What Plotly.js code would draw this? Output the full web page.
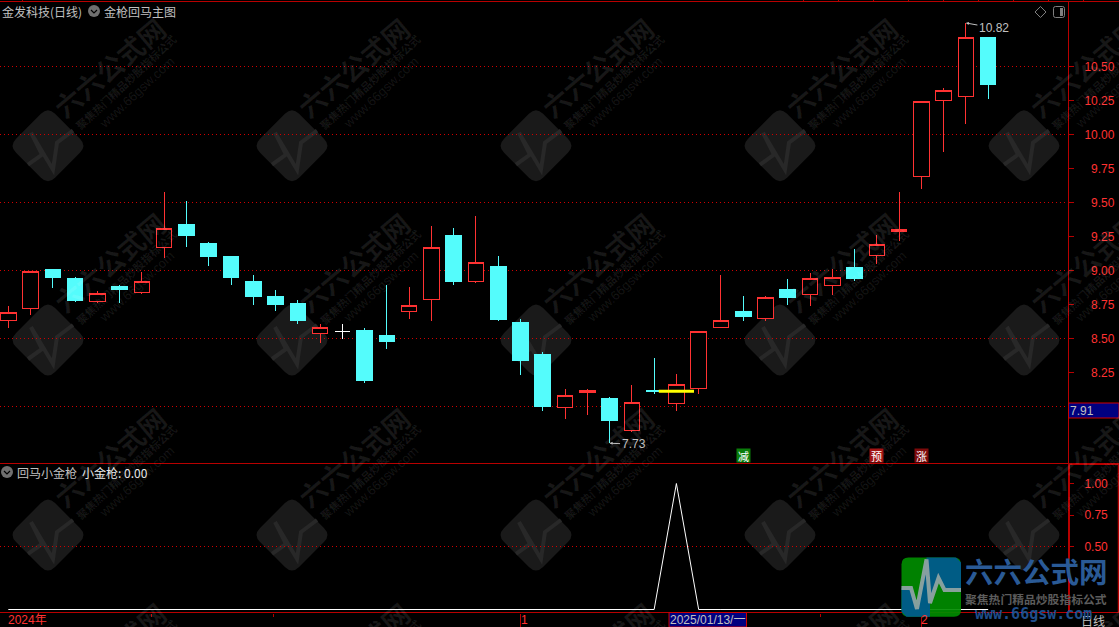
<!DOCTYPE html>
<html><head><meta charset="utf-8">
<script src="https://cdn.plot.ly/plotly-3.0.1.min.js"></script>
<style>html,body{margin:0;padding:0;background:#000;overflow:hidden}#c{width:1119px;height:627px}
#c .boxlayer path{shape-rendering:crispEdges}</style>
</head><body><div id="c"></div>
<script>
// ---- data ----
const openP  = [8.63,8.72,9.01,8.94,8.77,8.88,8.84,9.17,9.34,9.20,9.10,8.92,8.81,8.76,8.54,8.55,8.56,8.52,8.70,8.79,9.26,8.92,9.03,8.62,8.38,7.99,8.10,8.06,7.82,8.12,8.02,8.13,8.58,8.70,8.65,8.86,8.82,8.89,9.02,9.11,9.29,9.69,10.25,10.28,10.71];
const closeP = [8.69,8.99,8.95,8.78,8.83,8.86,8.92,9.31,9.26,9.10,8.95,8.81,8.75,8.63,8.58,8.55,8.19,8.48,8.74,9.17,8.92,9.06,8.64,8.34,8.00,8.08,8.12,7.90,8.03,8.11,8.16,8.55,8.63,8.66,8.80,8.80,8.94,8.95,8.94,9.19,9.30,10.24,10.32,10.71,10.37];
const highP  = [8.74,8.99,9.01,8.95,8.85,8.89,8.99,9.58,9.51,9.21,9.10,8.97,8.86,8.78,8.61,8.61,8.58,8.89,8.88,9.33,9.31,9.40,9.11,8.64,8.40,8.13,8.13,8.07,8.16,8.36,8.24,8.55,8.97,8.81,8.81,8.94,8.98,9.01,9.16,9.26,9.58,10.24,10.34,10.82,10.72];
const lowP   = [8.58,8.67,8.87,8.77,8.76,8.76,8.83,9.09,9.17,9.03,8.89,8.75,8.70,8.61,8.47,8.50,8.17,8.42,8.64,8.63,8.89,8.91,8.63,8.23,7.97,7.91,7.94,7.73,7.81,8.09,7.97,8.09,8.58,8.63,8.63,8.75,8.74,8.82,8.92,9.05,9.22,9.60,9.87,10.08,10.26];
const crossIndex = 15;
const indicator = [0,0,0,0,0,0,0,0,0,0,0,0,0,0,0,0,0,0,0,0,0,0,0,0,0,0,0,0,0,0,1,0,0,0,0,0,0,0,0,0,0,0,0,0,0];
const yellowX = [29.21,30.79];
const yellowY = [8.112,8.112];
const priceTicks = [10.5,10.25,10,9.75,9.5,9.25,9,8.75,8.5,8.25];
const priceLabels = ['10.50','10.25','10.00','\u20079.75','\u20079.50','\u20079.25','\u20079.00','\u20078.75','\u20078.50','\u20078.25'];
const gridPrices = [10.5,10,9.5,9,8.5,8];
const indTicks = [1,0.75,0.5];
const indLabels = ['1.00','0.75','0.50'];
const signalX = [33,39,41];
const signalText = ['减','预','涨'];
const signalBg = ['#0a7d0a','#a31414','#7d0a0a'];
const signalPrice = 7.64;
const longTicks = [23,41];
const shortTicks = [6.45,11.93,36.45];
const wmCols = [48,292,536,780,1024];
const wmRows = [145.7,340,535,730];

// ---- helpers ----
const W=1068, T=1, B=613, H=B-T;
const px=x=>x/W, py=y=>(B-y)/H;
const RED='#ff3232', DARK='#b80000', GREY='#c0c0c0';
const P=pts=>pts.map((p,i)=>(i?'L':'M')+px(p[0]).toFixed(5)+','+py(p[1]).toFixed(5)).join(' ');
function roundPoly(pts,d){
  let s='';
  pts.forEach((p,i)=>{
    const a=pts[(i+pts.length-1)%pts.length], b=pts[(i+1)%pts.length];
    const la=Math.hypot(a[0]-p[0],a[1]-p[1]), lb=Math.hypot(b[0]-p[0],b[1]-p[1]);
    const s1=[p[0]+(a[0]-p[0])*d/la,p[1]+(a[1]-p[1])*d/la], s2=[p[0]+(b[0]-p[0])*d/lb,p[1]+(b[1]-p[1])*d/lb];
    s+=(i?'L':'M')+px(s1[0]).toFixed(5)+','+py(s1[1]).toFixed(5)+' Q'+px(p[0]).toFixed(5)+','+py(p[1]).toFixed(5)+' '+px(s2[0]).toFixed(5)+','+py(s2[1]).toFixed(5)+' ';
  });
  return s+'Z';
}
const pShape=(path,o)=>Object.assign({type:'path',xref:'paper',yref:'paper',path:path,layer:'above'},o);
const hline=(y,x0,x1,c,w)=>({type:'line',xref:'paper',yref:'paper',x0:px(x0),x1:px(x1),y0:py(y),y1:py(y),line:{color:c||DARK,width:w||1},layer:'above'});
const vline=(x,y0,y1,c,w)=>({type:'line',xref:'paper',yref:'paper',x0:px(x),x1:px(x),y0:py(y0),y1:py(y1),line:{color:c||DARK,width:w||1},layer:'above'});
const text=(t,x,y,o)=>Object.assign({xref:'paper',yref:'paper',x:px(x),y:py(y),xshift:-1,text:t,showarrow:false,xanchor:'left',yanchor:'middle',borderpad:0,
   font:{family:'"Noto Sans CJK SC"',size:12,color:GREY}},o||{});

// ---- candles ----
const idx=openP.map((_,i)=>i);
const keep=idx.filter(i=>i!==crossIndex);
const candles={type:'candlestick',xaxis:'x',yaxis:'y',x:keep,
  open:keep.map(i=>openP[i]),close:keep.map(i=>closeP[i]),high:keep.map(i=>highP[i]),low:keep.map(i=>lowP[i]),
  whiskerwidth:0,line:{width:1},
  increasing:{line:{color:'#ff3232',width:1},fillcolor:'#000000'},
  decreasing:{line:{color:'#54fcfc',width:1},fillcolor:'#54fcfc'},hoverinfo:'skip',showlegend:false};
const cross={type:'candlestick',xaxis:'x',yaxis:'y',x:[crossIndex],open:[openP[crossIndex]],close:[closeP[crossIndex]],high:[highP[crossIndex]],low:[lowP[crossIndex]],
  whiskerwidth:0,increasing:{line:{color:'#ffffff',width:1},fillcolor:'#ffffff'},decreasing:{line:{color:'#ffffff',width:1},fillcolor:'#ffffff'},hoverinfo:'skip',showlegend:false};
const yellow={type:'scatter',mode:'lines',xaxis:'x',yaxis:'y',x:yellowX,y:yellowY,line:{color:'#ffff00',width:3},hoverinfo:'skip',showlegend:false};
const ind={type:'scatter',mode:'lines',xaxis:'x',yaxis:'y2',x:idx,y:indicator,line:{color:'#ffffff',width:1},hoverinfo:'skip',showlegend:false};

// ---- shapes ----
const shapes=[];
wmCols.forEach(cx=>wmRows.slice(0,3).forEach(cy=>{
  shapes.push(pShape(roundPoly([[cx,cy-39],[cx+39,cy],[cx,cy+39],[cx-39,cy]],10),{fillcolor:'#1a1a1a',line:{width:0},layer:'below'}));
  shapes.push(pShape(P([[cx-20,cy+19],[cx-6,cy+9],[cx-17,cy-13],[cx+5,cy+24],[cx+9,cy-3],[cx+25,cy-15]]),{line:{color:'#282828',width:4},fillcolor:'rgba(0,0,0,0)',layer:'below'}));
}));
gridPrices.forEach(v=>shapes.push({type:'line',xref:'paper',yref:'y',x0:0,x1:1,y0:v,y1:v,line:{color:'#d00000',width:1,dash:'1px,3px'},layer:'below'}));
shapes.push({type:'line',xref:'paper',yref:'y2',x0:0,x1:1,y0:0.5,y1:0.5,line:{color:'#d00000',width:1,dash:'1px,3px'},layer:'below'});
shapes.push(hline(1.5,0,1119));
shapes.push(hline(463.5,0,1119));
shapes.push(hline(612.5,0,1119));
shapes.push(vline(1118.5,463.5,612.5,DARK,1.5));
shapes.push(hline(464.5,1068,1119));
shapes.push(vline(1069.5,463.5,612.5));
[22,803,838,873,908,943,978,1013,1048,1083].forEach(x=>shapes.push(vline(x+.5,0,1.5)));
shapes.push({type:'rect',xref:'paper',yref:'paper',x0:px(1068.5),x1:px(1119),y0:py(403),y1:py(418),fillcolor:'#000080',line:{color:'#d00000',width:1},layer:'above'});
shapes.push({type:'rect',xref:'paper',yref:'paper',x0:px(669),x1:px(746.5),y0:py(612.5),y1:py(627),fillcolor:'#000080',line:{color:'#d00000',width:1},layer:'above'});
[[94,11],[7,472]].forEach(c=>{
  shapes.push({type:'circle',xref:'paper',yref:'paper',x0:px(c[0]-6),x1:px(c[0]+6),y0:py(c[1]-6),y1:py(c[1]+6),fillcolor:'#707070',line:{width:0},layer:'above'});
  shapes.push(pShape(P([[c[0]-3,c[1]-1],[c[0],c[1]+2],[c[0]+3,c[1]-1]]),{line:{color:'#000000',width:1.2},fillcolor:'rgba(0,0,0,0)'}));
});
shapes.push(pShape(P([[1040.5,6.5],[1046,12],[1040.5,17.5],[1035,12],[1040.5,6.5]]),{line:{color:'#808080',width:1},fillcolor:'rgba(0,0,0,0)'}));
shapes.push(pShape(roundPoly([[1053.5,6.5],[1064.5,6.5],[1064.5,17.5],[1053.5,17.5]],2),{line:{color:'#808080',width:1},fillcolor:'rgba(0,0,0,0)'}));
shapes.push({type:'rect',xref:'paper',yref:'paper',x0:px(1060),x1:px(1063),y0:py(8),y1:py(16),fillcolor:'#808080',line:{width:0},layer:'above'});
const lx0=901.5,lx1=961,ly0=557.5,ly1=616.7;
const pulse=[[lx0,588],[911,588],[917,609],[926.5,559.5],[930,603],[938.5,578],[944.5,590],[lx1,590]];
shapes.push(pShape(roundPoly([[lx0,ly0],[lx1,ly0],[lx1,ly1],[lx0,ly1]],7),{fillcolor:'#008c00',line:{width:0},opacity:0.92}));
shapes.push(pShape(P([[926.5,ly0],[lx1-5,ly0],[lx1,ly0+5],[lx1,590],[944.5,590],[938.5,578],[930,603],[926.5,559.5]])+' Z',{fillcolor:'#005a8c',line:{width:0},opacity:0.95}));
shapes.push(pShape(P([[lx0,588],[911,588],[917,609],[926.5,559.5],[930,603],[930,ly1],[lx0+5,ly1],[lx0,ly1-5]])+' Z',{fillcolor:'#005a8c',line:{width:0},opacity:0.95}));
shapes.push(pShape(P(pulse),{line:{color:'#8fa3a3',width:4},fillcolor:'rgba(0,0,0,0)',opacity:0.95}));

// ---- annotations ----
const anns=[];
const wmFont='"Noto Sans CJK SC"', wmC='rgba(255,255,255,0.09)';
wmCols.forEach(cx=>wmRows.forEach(cy=>{
  anns.push({xref:'paper',yref:'paper',x:px(cx+61),y:py(cy-78),text:'六六公式网',showarrow:false,textangle:-40,xanchor:'center',yanchor:'middle',font:{family:wmFont,size:27,weight:700,color:wmC}});
  anns.push({xref:'paper',yref:'paper',x:px(cx+77.7),y:py(cy-63.3),text:'聚焦热门精品炒股指标公式',showarrow:false,textangle:-43,xanchor:'center',yanchor:'middle',font:{family:wmFont,size:11,weight:700,color:wmC}});
  anns.push({xref:'paper',yref:'paper',x:px(cx+88.7),y:py(cy-53.4),text:'www.66gsw.com',showarrow:false,textangle:-43,xanchor:'center',yanchor:'middle',font:{family:'"Liberation Sans"',size:13,color:wmC}});
}));
anns.push(text('金发科技(日线)',2,11));
anns.push(text('金枪回马主图',104,11));
anns.push(text('回马小金枪',17,472));
anns.push(text('小金枪: 0.00',82,472,{font:{family:'"Noto Sans CJK SC"',size:12,color:'#e8e8e8'}}));
signalX.forEach((x,i)=>anns.push({xref:'x',yref:'y',x:x,y:signalPrice,text:signalText[i],showarrow:false,width:13,height:13,bgcolor:signalBg[i],borderpad:0,font:{family:'"Noto Sans CJK SC"',size:11,color:'#ffffff'}}));
anns.push(text('7.91',1070,410.5,{font:{family:'"Liberation Sans"',size:12,color:GREY}}));
anns.push(text('2025/01/13/一',670,620,{font:{family:'"Liberation Sans","Noto Sans CJK SC"',size:12,color:GREY}}));
anns.push(text('日线',1081,620.5));
anns.push(text('2024年',8,620,{font:{family:'"Liberation Sans","Noto Sans CJK SC"',size:12,color:RED}}));
anns.push({xref:'x',yref:'paper',x:longTicks[0],y:py(620),xshift:-2,text:'1',showarrow:false,xanchor:'left',yanchor:'middle',font:{family:'"Liberation Sans"',size:12,color:RED}});
anns.push({xref:'x',yref:'paper',x:longTicks[1],y:py(620),xshift:-2,text:'2',showarrow:false,xanchor:'left',yanchor:'middle',font:{family:'"Liberation Sans"',size:12,color:RED}});
anns.push({xref:'x',yref:'y',x:27,y:lowP[27],axref:'pixel',ayref:'pixel',ax:24,ay:1,text:'7.73',showarrow:true,arrowhead:2,arrowsize:0.6,arrowwidth:1,arrowcolor:GREY,font:{family:'"Liberation Sans"',size:12,color:GREY}});
anns.push({xref:'x',yref:'y',x:43,y:highP[43],axref:'pixel',ayref:'pixel',ax:28,ay:5,text:'10.82',showarrow:true,arrowhead:2,arrowsize:0.6,arrowwidth:1,arrowcolor:GREY,font:{family:'"Liberation Sans"',size:12,color:GREY}});
anns.push(text('六六公式网',965,570,{font:{family:wmFont,size:28.5,weight:700,color:'#2a5a96'}}));
anns.push(text('聚焦热门精品炒股指标公式',965,598,{font:{family:wmFont,size:11.8,weight:700,color:'#5c5c5c'}}));
anns.push(text('www.66gsw.com',975,613.5,{font:{family:'"DejaVu Sans Mono"',size:15,weight:700,color:'#1f4e8c'}}));

const axisTick={family:'"Liberation Sans"',size:12,color:RED};
const layout={width:1119,height:627,paper_bgcolor:'#000',plot_bgcolor:'rgba(0,0,0,0)',showlegend:false,boxgap:0,boxmode:'overlay',
  margin:{l:0,r:51,t:T,b:627-B,pad:0},hovermode:false,
  xaxis:{domain:[0,1],range:[-8.3/22.27,(W-8.3)/22.27],showgrid:false,zeroline:false,showline:false,rangeslider:{visible:false},anchor:'y2',
    tickmode:'array',tickvals:longTicks,ticktext:['',''],ticks:'outside',ticklen:14,tickcolor:DARK,tickwidth:1,showticklabels:true,
    minor:{tickmode:'array',tickvals:shortTicks,ticks:'outside',ticklen:3,tickcolor:DARK,tickwidth:1,showgrid:false}},
  yaxis:{domain:[(B-463.5)/H,1],range:[10.5-(463.5-66.5)/136,10.5+(66.5-T)/136],side:'right',anchor:'x',showgrid:false,zeroline:false,showline:true,linecolor:DARK,linewidth:1,
    tickmode:'array',tickvals:priceTicks,ticktext:priceLabels,ticks:'outside',ticklen:5,tickcolor:DARK,tickfont:axisTick,ticklabelstandoff:8},
  yaxis2:{domain:[0,(B-463.5)/H],range:[(609.5-B)/126,(609.5-463.5)/126],side:'right',anchor:'x',showgrid:false,zeroline:false,showline:true,linecolor:DARK,linewidth:1,
    tickmode:'array',tickvals:indTicks,ticktext:indLabels,ticks:'outside',ticklen:5,tickcolor:DARK,tickfont:axisTick,ticklabelstandoff:8},
  shapes:shapes,annotations:anns};
Plotly.newPlot('c',[candles,cross,yellow,ind],layout,{staticPlot:true,displayModeBar:false});
</script></body></html>
